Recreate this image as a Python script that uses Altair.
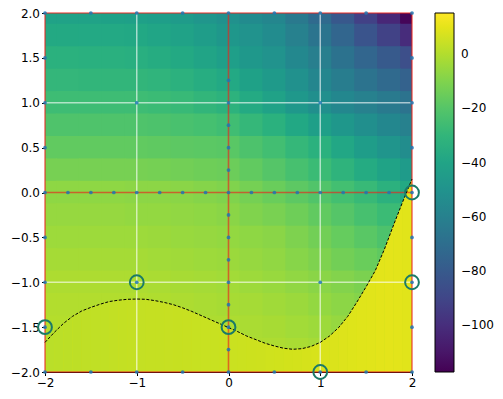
import altair as alt
import pandas as pd

# ---- heat field, rows at y, columns at x = -2..2 step 0.25
grid_x = [-2.0, -1.75, -1.5, -1.25, -1.0, -0.75, -0.5, -0.25, 0.0, 0.25, 0.5, 0.75, 1.0, 1.25, 1.5, 1.75, 2.0]
grid_y = [2.0, 1.75, 1.5, 1.25, 1.0, 0.75, 0.5, 0.25, 0.0, -0.25, -0.5, -0.75, -1.0, -1.25, -1.5, -1.75, -2.0]

z_p200 = [-41, -41, -41, -41.5, -42, -43.5, -45, -48, -51, -54, -57, -64, -72, -81, -92, -103, -116]
z_p175 = [-37, -37, -37.5, -37.5, -38, -39.5, -41, -44, -47, -50, -53.5, -60, -66.5, -74, -83, -91.5, -101]
z_p150 = [-33, -33, -33.5, -33.5, -34, -35.5, -37, -40, -43, -46.5, -50, -55.5, -61, -67.5, -74, -80, -86]
z_p125 = [-29.5, -29.5, -30, -30, -30, -31, -32.5, -35, -37.5, -41.5, -45.5, -51, -56.5, -62, -67, -72, -76.5]
z_p100 = [-26, -26, -26, -26, -26, -27, -28, -30, -32, -36.5, -41, -46.5, -52, -56, -60, -63.5, -67]
z_p075 = [-21.5, -21.5, -21.5, -21.5, -21.5, -22, -23, -24, -25.5, -29, -33, -38, -42.5, -47, -52, -56, -60]
z_p050 = [-17, -17, -17, -17, -17, -17.5, -18, -18.5, -19, -22, -25, -29, -33, -38.5, -44, -48.5, -53]
z_p025 = [-12, -12, -12, -12, -12, -12.5, -13, -14, -14.5, -17, -20, -23.5, -27, -31.5, -36, -40.5, -45]
z_000 = [-7, -7, -7, -7, -7.5, -7.5, -8, -9, -10, -12.5, -15, -18, -21, -24.5, -28, -32.5, -37]
z_m025 = [-5.5, -5.5, -5.5, -5.5, -6, -6, -6.5, -7, -8, -10, -11.5, -14, -17, -20, -23.5, -27, -31]
z_m050 = [-4, -4, -4, -4, -4, -4.5, -5, -5.5, -6, -7, -8, -10.5, -13, -16, -19, -22, -25]
z_m075 = [-2.5, -2.5, -2.5, -2.5, -2.5, -3, -3.5, -4, -4.5, -5.5, -6.5, -8.5, -10.5, -13, -15, -17.5, -20]
z_m100 = [-1, -1, -1, -1, -1, -1.5, -2, -2.5, -3, -4, -5, -6.5, -8, -9.5, -11, -13, -15]
z_m125 = [0, 0, 0, 0, 0, -0.5, -1, -1.5, -2, -2.5, -3.5, -4.5, -6, -7.5, -9, -11, -13]
z_m150 = [0.5, 0.5, 0.5, 0.5, 0.5, 0, -0.5, -1, -1, -1.5, -2, -3, -4, -5.5, -7, -9, -11]
z_m175 = [1, 1, 1, 1, 1, 0.5, 0, -0.5, -0.5, -1, -1, -1.5, -2.5, -4, -5.5, -7, -9]
z_m200 = [1.5, 1.5, 1.5, 1.5, 1.5, 1, 0.5, 0, 0, -0.5, -0.5, -1, -1.5, -3, -4.5, -6, -8]

z_rows = [z_p200, z_p175, z_p150, z_p125, z_p100, z_p075, z_p050, z_p025, z_000,
          z_m025, z_m050, z_m075, z_m100, z_m125, z_m150, z_m175, z_m200]

# ---- dashed boundary curve
curve_x = [-2.0, -1.9, -1.8, -1.7, -1.6, -1.5, -1.4, -1.3, -1.2, -1.1, -1.0, -0.9, -0.8, -0.7, -0.6,
           -0.5, -0.4, -0.3, -0.2, -0.1, 0.0, 0.1, 0.2, 0.3, 0.4, 0.5, 0.6, 0.7, 0.8, 0.9, 1.0,
           1.1, 1.2, 1.3, 1.4, 1.5, 1.6, 1.7, 1.8, 1.9, 2.0]
curve_y = [-1.67, -1.56, -1.46, -1.38, -1.32, -1.28, -1.245, -1.215, -1.2, -1.19, -1.187, -1.19,
           -1.205, -1.225, -1.25, -1.285, -1.325, -1.37, -1.415, -1.46, -1.505, -1.55, -1.6, -1.64,
           -1.68, -1.71, -1.735, -1.747, -1.74, -1.715, -1.67, -1.6, -1.505, -1.38, -1.22, -1.05,
           -0.87, -0.63, -0.36, -0.1, 0.15]

# values of the (yellow) region below the curve: one base value, then one per strip
below_base = [5.0]
below_vals = [1.5, 1.7, 2, 2.2, 2.5, 2.7, 3, 3.2, 3.4, 3.5, 3.6, 3.7, 3.8, 3.9, 4, 4.1, 4.2, 4.3,
              4.4, 4.5, 4.7, 4.9, 5.1, 5.4, 5.7, 6, 6.3, 6.6, 7, 7.3, 7.7, 8, 8.4, 8.7, 9,
              9.3, 9.6, 9.8, 9.7, 9.3]

# ---- lines, sample points and circled points
white_lines = [-1.0, 1.0]
red_lines = [-2.0, 0.0, 2.0]

edge_steps = [-2.0, -1.5, -1.0, -0.5, 0.0, 0.5, 1.0, 1.5, 2.0]
side_steps = [1.5, 1.0, 0.5, 0.0, -0.5, -1.0, -1.5]
inner_x = [-1.0, 1.0, -1.0, 1.0]
inner_y = [1.0, 1.0, -1.0, -1.0]
axis0_x = [-1.75, -1.5, -1.25, -1.0, -0.75, -0.5, -0.25, 0.25, 0.5, 0.75, 1.0, 1.25, 1.5, 1.75]
axis0_y = [1.25, 1.0, 0.75, 0.5, 0.25, 0.0, -0.25, -0.5, -0.75, -1.0, -1.25, -1.5, -1.75]

circ_x = [-2, -1, 0, 1, 2, 2]
circ_y = [-1.5, -1, -1.5, -2, -1, 0]

color_domain = [-117.3, 15.2]
legend_vals = [-100, -80, -60, -40, -20, 0]

# ---- tables
half = 0.13  # a hair over half a step so neighbouring cells overlap (no seams)
cells = []
for yi, row in zip(grid_y, z_rows):
    for xi, v in zip(grid_x, row):
        cells.append(dict(x0=xi - half, x1=xi + half, y0=yi - half, y1=yi + half, v=v))
cells = pd.DataFrame(cells)

base = pd.DataFrame(dict(x=curve_x, y=curve_y, v=below_base * len(curve_x)))

strips = []
for i, v in enumerate(below_vals):
    strips.append(dict(s=i, x=curve_x[i], y=curve_y[i], v=v))
    strips.append(dict(s=i, x=curve_x[i + 1], y=curve_y[i + 1], v=v))
strips = pd.DataFrame(strips)

curve = pd.DataFrame(dict(x=curve_x, y=curve_y))
dot_x = (edge_steps + edge_steps + [-2.0] * len(side_steps) + [2.0] * len(side_steps)
         + inner_x + axis0_x + [0.0] * len(axis0_y))
dot_y = ([2.0] * len(edge_steps) + [-2.0] * len(edge_steps) + side_steps + side_steps
         + inner_y + [0.0] * len(axis0_x) + axis0_y)
pts = pd.DataFrame(dict(x=dot_x, y=dot_y))
circ = pd.DataFrame(dict(x=circ_x, y=circ_y))
wl = pd.DataFrame(dict(p=white_lines))
rl = pd.DataFrame(dict(p=red_lines))

xs = alt.Scale(domain=[-2, 2], nice=False, zero=False)
ys = alt.Scale(domain=[-2, 2], nice=False, zero=False)
cs = alt.Scale(scheme="viridis", domain=color_domain)

xaxis = alt.Axis(values=[-2, -1, 0, 1, 2], format="d", title=None, labelFlush=False)
yaxis = alt.Axis(values=[-2, -1.5, -1, -0.5, 0, 0.5, 1, 1.5, 2], format=".1f", title=None,
                 labelFlush=False)

PLOT_W, PLOT_H = 367, 359

legend = alt.Legend(title=None, type="gradient", orient="none", legendX=390, legendY=0,
                    direction="vertical", gradientLength=PLOT_H, gradientThickness=19,
                    gradientStrokeColor="black", gradientStrokeWidth=1, values=legend_vals,
                    labelFontSize=12, labelFont="DejaVu Sans", labelColor="black",
                    labelOffset=7, labelOverlap=False)

heat = alt.Chart(cells).mark_rect(clip=True).encode(
    x=alt.X("x0:Q", scale=xs, axis=xaxis),
    x2="x1:Q",
    y=alt.Y("y0:Q", scale=ys, axis=yaxis),
    y2="y1:Q",
    color=alt.Color("v:Q", scale=cs, legend=legend),
)

below0 = alt.Chart(base).mark_area(clip=True).encode(
    x=alt.X("x:Q", scale=xs),
    y=alt.Y("y:Q", scale=ys),
    y2=alt.datum(-2),
    color=alt.Color("v:Q", scale=cs, legend=legend),
)

below = alt.Chart(strips).mark_area(clip=True).encode(
    x=alt.X("x:Q", scale=xs),
    y=alt.Y("y:Q", scale=ys),
    y2=alt.datum(-2),
    detail="s:N",
    color=alt.Color("v:Q", scale=cs, legend=legend),
)

wv = alt.Chart(wl).mark_rule(color="white", opacity=0.6, strokeWidth=1.5).encode(
    x=alt.X("p:Q", scale=xs), y=alt.datum(-2), y2=alt.datum(2))
wh = alt.Chart(wl).mark_rule(color="white", opacity=0.6, strokeWidth=1.5).encode(
    y=alt.Y("p:Q", scale=ys), x=alt.datum(-2), x2=alt.datum(2))
rv = alt.Chart(rl).mark_rule(color="#e8251f", opacity=0.65, strokeWidth=1.6).encode(
    x=alt.X("p:Q", scale=xs), y=alt.datum(-2), y2=alt.datum(2))
rh = alt.Chart(rl).mark_rule(color="#e8251f", opacity=0.65, strokeWidth=1.6).encode(
    y=alt.Y("p:Q", scale=ys), x=alt.datum(-2), x2=alt.datum(2))

line = alt.Chart(curve).mark_line(color="black", strokeWidth=1, strokeDash=[3, 1.6]).encode(
    x=alt.X("x:Q", scale=xs), y=alt.Y("y:Q", scale=ys), order="x:Q")

dots = alt.Chart(pts).mark_circle(size=14, color="#1f77b4", opacity=0.85).encode(
    x=alt.X("x:Q", scale=xs), y=alt.Y("y:Q", scale=ys))

rings = alt.Chart(circ).mark_point(shape="circle", filled=False, size=190, strokeWidth=2,
                                   color="#1a7a68", opacity=1).encode(
    x=alt.X("x:Q", scale=xs), y=alt.Y("y:Q", scale=ys))

chart = alt.layer(heat, below0, below, wv, wh, rv, rh, line, dots, rings).properties(
    width=PLOT_W, height=PLOT_H,
    autosize=alt.AutoSizeParams(type="none"),
    padding={"left": 37, "top": 5, "right": 83, "bottom": 19},
).configure_view(strokeWidth=0).configure_axis(
    labelFont="DejaVu Sans", labelFontSize=12, labelColor="black",
    domainColor="black", domainWidth=1, tickColor="black", tickSize=3.5, tickWidth=1,
    labelPadding=2, grid=False, zindex=1,
)

chart.save("out.html", embed_options={"renderer": "svg", "actions": False})
